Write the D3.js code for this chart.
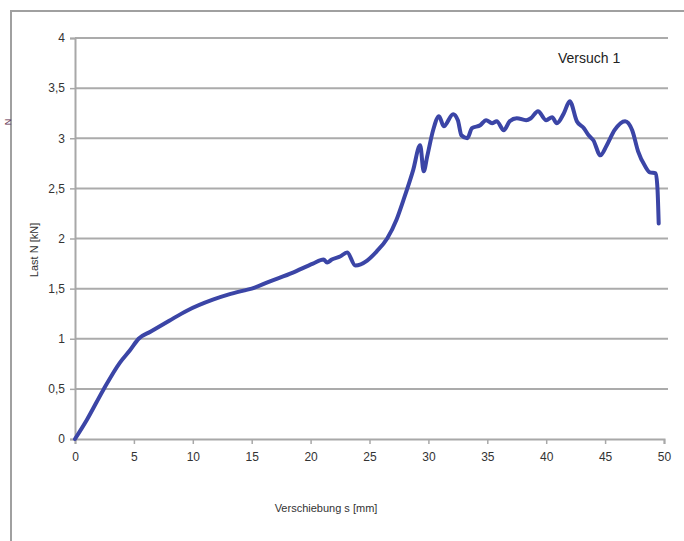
<!DOCTYPE html>
<html><head><meta charset="utf-8">
<script src="https://cdn.jsdelivr.net/npm/d3@7"></script>
<style>body{margin:0;background:#fff;}svg{display:block;}</style>
</head><body>
<svg id="c" width="684" height="541"></svg>
<script>
const xTicks = [0,5,10,15,20,25,30,35,40,45,50];
const yTicks = [0,0.5,1,1.5,2,2.5,3,3.5,4];
const xVals = [0,1.0,2.4,3.8,4.7,5.4,6.4,8.0,9.5,11.7,13.0,14.3,15.0,16.5,18.5,20.2,21.1,21.4,21.8,22.5,23.1,23.8,24.8,25.6,26.5,27.3,27.9,28.7,29.3,29.6,29.9,30.4,30.9,31.3,32.1,32.5,32.8,33.3,33.7,34.4,34.9,35.4,35.8,36.4,36.9,37.5,38.3,38.7,39.3,40.0,40.5,40.9,41.5,42.0,42.6,43.2,43.6,44.0,44.6,45.1,45.8,46.7,47.3,47.8,48.4,48.8,49.3,49.45,49.55];
const yVals = [0,0.19,0.49,0.76,0.89,1.0,1.07,1.18,1.28,1.39,1.44,1.48,1.50,1.57,1.66,1.75,1.79,1.76,1.79,1.82,1.86,1.73,1.78,1.87,2.0,2.19,2.39,2.68,2.93,2.67,2.82,3.08,3.22,3.12,3.24,3.18,3.03,3.0,3.1,3.13,3.18,3.15,3.17,3.08,3.17,3.2,3.18,3.2,3.27,3.18,3.21,3.15,3.25,3.37,3.17,3.1,3.03,2.98,2.83,2.92,3.08,3.17,3.08,2.87,2.72,2.66,2.65,2.49,2.15];
const seriesName = "Versuch 1";
const xTitle = "Verschiebung s [mm]";
const yTitle = "Last N [kN]";

const svg = d3.select("#c");
const font = "'Liberation Sans', Arial, sans-serif";
const x = d3.scaleLinear().domain([0,50]).range([75,664]);
const y = d3.scaleLinear().domain([0,4]).range([439,38]);

// outer frame
svg.append("path").attr("d","M11,545 L11,11 L690,11").attr("fill","none").attr("stroke","#a0a0a0").attr("stroke-width",2);

// gridlines
svg.append("g").selectAll("line").data(yTicks.filter(d=>d>0)).join("line")
  .attr("x1",x(0)).attr("x2",x(50)+4).attr("y1",d=>y(d)).attr("y2",d=>y(d))
  .attr("stroke","#ababab").attr("stroke-width",2);

// y axis
const yAxis = svg.append("g").attr("transform",`translate(${x(0)},0)`)
  .call(d3.axisLeft(y).tickValues(yTicks).tickSize(5).tickPadding(5).tickFormat(d=>String(d).replace(".",",")));
// x axis
const xAxis = svg.append("g").attr("transform",`translate(0,${y(0)})`)
  .call(d3.axisBottom(x).tickValues(xTicks).tickSize(5).tickPadding(8));
[yAxis,xAxis].forEach(a=>{
  a.select(".domain").attr("stroke","#a8a8a8").attr("stroke-width",2);
  a.selectAll(".tick line").attr("stroke","#a8a8a8").attr("stroke-width",1.5);
  a.selectAll("text").attr("font-family",font).attr("font-size",12).attr("fill","#333");
});

// line
const line = d3.line().x((d,i)=>x(xVals[i])).y((d,i)=>y(yVals[i])).curve(d3.curveMonotoneX);
svg.append("path").datum(yVals).attr("d",line).attr("fill","none")
  .attr("stroke","#3b45a6").attr("stroke-width",4).attr("stroke-linejoin","round").attr("stroke-linecap","round");

// legend
svg.append("text").attr("x",558).attr("y",63).attr("font-family",font).attr("font-size",14).attr("fill","#222").text(seriesName);

// titles
svg.append("text").attr("x",326).attr("y",512).attr("text-anchor","middle").attr("font-family",font).attr("font-size",11).attr("fill","#333").text(xTitle);
svg.append("text").attr("transform","translate(38,250) rotate(-90)").attr("text-anchor","middle").attr("font-family",font).attr("font-size",11).attr("fill","#333").text(yTitle);
svg.append("text").attr("transform","translate(11,122) rotate(-90)").attr("text-anchor","middle").attr("font-family",font).attr("font-size",9).attr("fill","#5a2a4a").text("N");
</script>
</body></html>
